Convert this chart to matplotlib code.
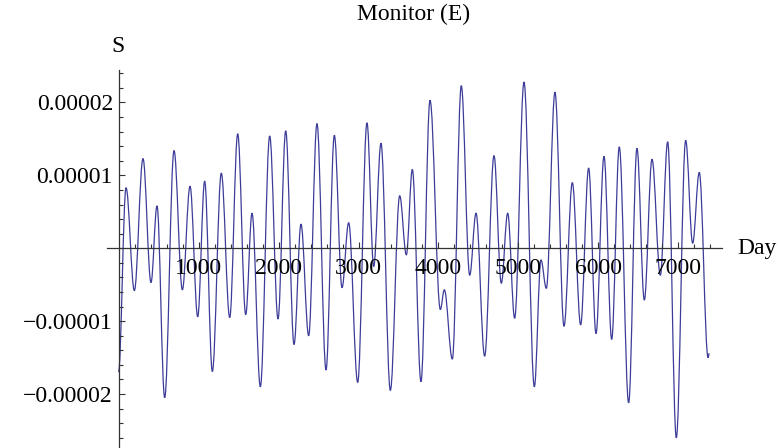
import matplotlib.pyplot as plt
from matplotlib.path import Path
from matplotlib.patches import PathPatch
from matplotlib.ticker import FixedLocator

plt.rcParams["font.family"] = ["Liberation Serif", "DejaVu Serif"]

# turning points of the monitor signal (day, S in units of 1e-5)
days = [0, 94, 198, 306, 406, 481, 577, 694, 798, 894, 990, 1077, 1173,
        1285, 1390, 1490, 1590, 1669, 1773, 1890, 1994, 2090, 2194, 2281,
        2377, 2481, 2594, 2698, 2794, 2877, 2990, 3106, 3190, 3281, 3398,
        3515, 3598, 3673, 3781, 3894, 4023, 4073, 4173, 4285, 4390, 4469,
        4577, 4694, 4785, 4865, 4952, 5069, 5198, 5281, 5348, 5456, 5569,
        5673, 5777, 5877, 5969, 6069, 6165, 6260, 6377, 6481, 6573, 6669,
        6773, 6865, 6973, 7090, 7177, 7260, 7370, 7385]
s_e5 = [-1.70, 0.83, -0.58, 1.23, -0.47, 0.58, -2.05, 1.34, -0.57, 0.85,
        -0.94, 0.92, -1.69, 1.03, -0.95, 1.57, -0.91, 0.48, -1.90, 1.54,
        -0.97, 1.61, -1.32, 0.33, -1.20, 1.71, -1.67, 1.55, -0.54, 0.35,
        -1.84, 1.72, -0.25, 1.44, -1.95, 0.72, -0.09, 1.08, -1.83, 2.03,
        -0.84, -0.57, -1.52, 2.23, -0.37, 0.48, -1.48, 1.27, -0.48, 0.48,
        -0.96, 2.28, -1.90, -0.16, -0.55, 2.14, -1.07, 0.90, -1.05, 1.10,
        -1.17, 1.26, -1.25, 1.39, -2.12, 1.37, -0.71, 1.22, -0.37, 1.46,
        -2.60, 1.48, 0.07, 1.04, -1.50, -1.44]
s_vals = [v * 1e-5 for v in s_e5]

x_major = [1000, 2000, 3000, 4000, 5000, 6000, 7000]
x_labels = ["1000", "2000", "3000", "4000", "5000", "6000", "7000"]
y_major = [-2e-5, -1e-5, 1e-5, 2e-5]
y_labels = ["\u22120.00002", "\u22120.00001", "0.00001", "0.00002"]
x_minor = list(range(200, 7600, 200))
y_minor = [i * 0.2e-5 for i in range(-13, 13)]

fig = plt.figure(figsize=(7.78, 4.48), dpi=100)
ax = fig.add_axes([107 / 778, 0, 615 / 778, 378 / 448])
ax.set_xlim(-144, 7544)
ax.set_ylim(-2.74e-5, 2.445e-5)

# smooth trace: cubic segments with flat tangents at each turning point
k = 0.364
verts = [(days[0], s_vals[0])]
codes = [Path.MOVETO]
for i in range(len(days) - 1):
    dx = days[i + 1] - days[i]
    verts += [(days[i] + k * dx, s_vals[i]),
              (days[i + 1] - k * dx, s_vals[i + 1]),
              (days[i + 1], s_vals[i + 1])]
    codes += [Path.CURVE4] * 3
ax.add_patch(PathPatch(Path(verts, codes), facecolor="none",
                       edgecolor="#3d3d99", lw=0.9, clip_on=False))

for side in ["top", "right"]:
    ax.spines[side].set_visible(False)
ax.spines["left"].set_position(("data", 0))
ax.spines["bottom"].set_position(("data", 0))
for side in ["left", "bottom"]:
    ax.spines[side].set_color("#333333")
    ax.spines[side].set_linewidth(0.9)

ax.xaxis.set_major_locator(FixedLocator(x_major))
ax.set_xticklabels(x_labels)
ax.xaxis.set_minor_locator(FixedLocator(x_minor))
ax.yaxis.set_major_locator(FixedLocator(y_major))
ax.set_yticklabels(y_labels)
ax.yaxis.set_minor_locator(FixedLocator(y_minor))
ax.tick_params(which="both", direction="in", color="#333333", width=0.8,
               labelsize=17)
ax.tick_params(which="major", length=4.5)
ax.tick_params(which="minor", length=2.8)
ax.tick_params(axis="x", which="major", pad=7)
ax.tick_params(axis="y", which="major", pad=4)

fig.text(414 / 778, 1 - 14 / 448, "Monitor (E)", ha="center", va="center",
         fontsize=17)
fig.text(118 / 778, 1 - 47 / 448, "S", ha="center", va="center", fontsize=17)
fig.text(737 / 778, 1 - 248 / 448, "Day", ha="left", va="center", fontsize=17)

fig.savefig("out.png", dpi=100)
